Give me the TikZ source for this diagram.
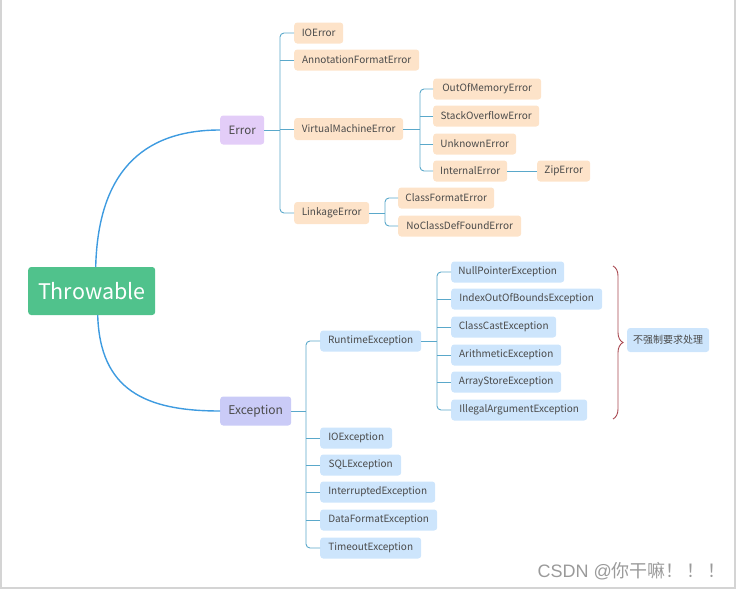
\documentclass[tikz,border=0pt]{standalone}
\usepackage{fontspec}
\setmainfont{Noto Sans CJK SC}
\newfontfamily\wmlatin{Liberation Sans}
\usetikzlibrary{decorations.pathreplacing}
\definecolor{txt}{HTML}{4A4A4A}
\definecolor{orfill}{HTML}{FDE3C9}
\definecolor{blfill}{HTML}{CDE5FC}
\definecolor{errfill}{HTML}{E3CDF8}
\definecolor{excfill}{HTML}{CACBF7}
\definecolor{thrfill}{HTML}{50C28C}
\definecolor{maincol}{HTML}{3E9BE0}
\definecolor{brcol}{HTML}{5AA8CA}
\definecolor{bracecol}{HTML}{A8474F}
\definecolor{framecol}{HTML}{D4D4D4}
\definecolor{wmcol}{HTML}{9A9A9A}
\begin{document}
\begin{tikzpicture}[x=1pt,y=-1pt,
  box/.style={rounded corners=3pt, inner sep=0pt, minimum height=21pt,
    font=\fontsize{10}{12}\selectfont, text=txt, anchor=west},
  orange/.style={box, fill=orfill},
  blue/.style={box, fill=blfill},
  br/.style={draw=brcol, line width=0.9pt, rounded corners=4pt},
  mainline/.style={draw=maincol, line width=1.4pt}]
\useasboundingbox (0,0) rectangle (736,589);
\draw[framecol, line width=2pt] (1,0) -- (1,588) -- (735,588) -- (735,0);

% root and main branches
\node[box, fill=thrfill, minimum width=127, minimum height=48, text=white,
  font=\fontsize{21.5}{25}\selectfont] (thr) at (28,291) {Throwable};
\node[box, fill=errfill, minimum width=44, minimum height=29,
  font=\fontsize{11.5}{13}\selectfont] (err) at (220,130) {Error};
\node[box, fill=excfill, minimum width=71, minimum height=29,
  font=\fontsize{12}{14}\selectfont] (exc) at (220,411) {Exception};

\draw[mainline] ([xshift=4pt]thr.north) .. controls (98,175) and (140,130) .. (err.west);
\draw[mainline] ([xshift=6pt]thr.south) .. controls (100,390) and (145,411) .. (exc.west);

% Error children
\node[orange, minimum width=49] (ioerr) at (294,33) {IOError};
\node[orange, minimum width=125] (anno) at (294,60) {AnnotationFormatError};
\node[orange, minimum width=109, minimum height=22] (vme) at (294,129) {VirtualMachineError};
\node[orange, minimum width=75, minimum height=22] (link) at (294,213) {LinkageError};
\node[orange, minimum width=108] (oom) at (433,89) {OutOfMemoryError};
\node[orange, minimum width=106] (so) at (433,116) {StackOverflowError};
\node[orange, minimum width=83] (unk) at (433,144) {UnknownError};
\node[orange, minimum width=74] (internal) at (433,171) {InternalError};
\node[orange, minimum width=53] (zip) at (537,171) {ZipError};
\node[orange, minimum width=96] (cfe) at (398,198) {ClassFormatError};
\node[orange, minimum width=123] (ncdf) at (398,226) {NoClassDefFoundError};

\coordinate (bxa) at (280,0);
\coordinate (bxb) at (420,0);
\coordinate (bxc) at (385,0);
\draw[br] (err.east) -- (err.east -| bxa);
\draw[br] (ioerr.west) -- (ioerr.west -| bxa) -- (link.west -| bxa) -- (link.west);
\draw[br] (anno.west) -- (anno.west -| bxa);
\draw[br] (vme.west) -- (vme.west -| bxa);
\draw[br] (vme.east) -- (vme.east -| bxb);
\draw[br] (oom.west) -- (oom.west -| bxb) -- (internal.west -| bxb) -- (internal.west);
\draw[br] (so.west) -- (so.west -| bxb);
\draw[br] (unk.west) -- (unk.west -| bxb);
\draw[br] (internal.east) -- (zip.west);
\draw[br] (link.east) -- (link.east -| bxc);
\draw[br] (cfe.west) -- (cfe.west -| bxc) -- (ncdf.west -| bxc) -- (ncdf.west);

% Exception children
\node[blue, minimum width=101] (rte) at (320,341) {RuntimeException};
\node[blue, minimum width=72] (ioe) at (320,438) {IOException};
\node[blue, minimum width=81] (sql) at (320,465) {SQLException};
\node[blue, minimum width=115] (intr) at (320,492) {InterruptedException};
\node[blue, minimum width=117] (dfe) at (320,520) {DataFormatException};
\node[blue, minimum width=101] (toe) at (320,548) {TimeoutException};
\node[blue, minimum width=113] (npe) at (451,272) {NullPointerException};
\node[blue, minimum width=151] (ioob) at (451,299) {IndexOutOfBoundsException};
\node[blue, minimum width=105] (cce) at (451,327) {ClassCastException};
\node[blue, minimum width=110] (ae) at (451,355) {ArithmeticException};
\node[blue, minimum width=110] (ase) at (451,382) {ArrayStoreException};
\node[blue, minimum width=136] (iae) at (451,410) {IllegalArgumentException};

\coordinate (bxd) at (306,0);
\coordinate (bxe) at (437,0);
\draw[br] (exc.east) -- (exc.east -| bxd);
\draw[br] (rte.west) -- (rte.west -| bxd) -- (toe.west -| bxd) -- (toe.west);
\foreach \n in {ioe,sql,intr,dfe} \draw[br] (\n.west) -- (\n.west -| bxd);
\draw[br] (rte.east) -- (rte.east -| bxe);
\draw[br] (npe.west) -- (npe.west -| bxe) -- (iae.west -| bxe) -- (iae.west);
\foreach \n in {ioob,cce,ae,ase} \draw[br] (\n.west) -- (\n.west -| bxe);

% brace and label
\coordinate (bt) at (613,266);
\coordinate (bb) at (613,419);
\draw[bracecol, line width=0.9pt, decorate, decoration={brace, amplitude=10pt}] (bt) -- (bb);
\node[blue, minimum width=82, minimum height=24] (lbl) at (627,340) {不强制要求处理};

% watermark
\node[anchor=east, text=wmcol, font=\fontsize{18}{21}\selectfont, inner sep=0pt] (wm) at (726,571) {{\wmlatin CSDN @}你干嘛！\,！\,！};
\end{tikzpicture}
\end{document}
